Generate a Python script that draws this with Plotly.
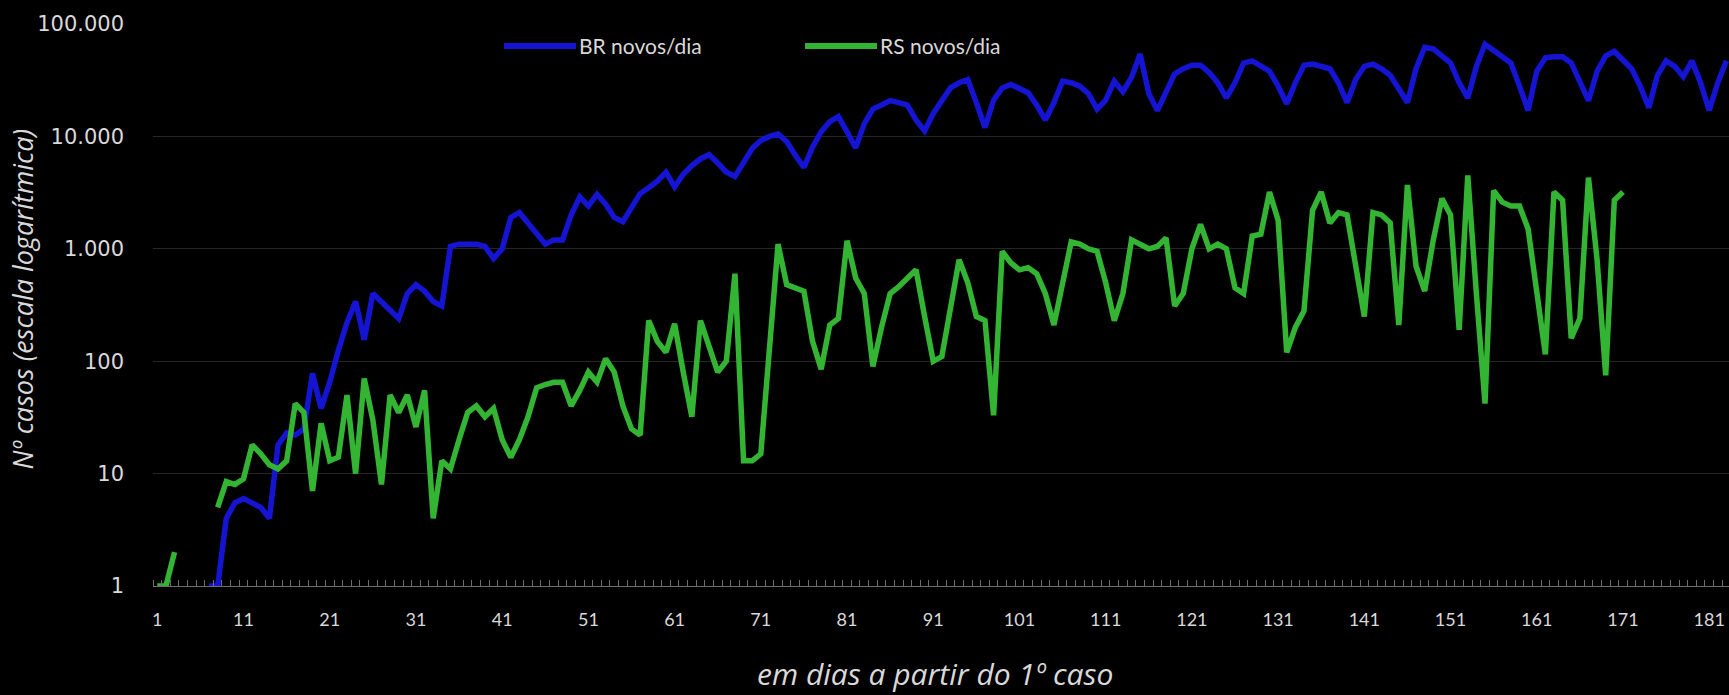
import plotly.graph_objects as go

# daily new cases (None = no value plotted)
br_cases = [
    None, None, None, None, None, None, 1, 1, 4, 5.5,            # 1-10
    6, 5.5, 5, 4, 18, 23, 22, 25, 78, 38,                        # 11-20
    65, 125, 220, 340, 155, 400, 340, 280, 240, 400,             # 21-30
    480, 420, 340, 310, 1050, 1100, 1100, 1100, 1050, 820,       # 31-40
    1000, 1900, 2100, 1700, 1400, 1100, 1200, 1200, 2000, 2900,  # 41-50
    2400, 3050, 2500, 1900, 1740, 2300, 3100, 3500, 4000, 4800,  # 51-60
    3550, 4600, 5500, 6300, 6900, 5800, 4800, 4400, 6000, 7800,  # 61-70
    9200, 10000, 10500, 9000, 6800, 5300, 8000, 11000, 13500, 15000,   # 71-80
    11000, 7900, 13000, 17500, 19000, 20800, 20000, 19000, 14000, 11200,  # 81-90
    16000, 21000, 27000, 30000, 32000, 20000, 12000, 21000, 27000, 29000,  # 91-100
    27000, 24500, 19000, 14000, 20000, 31000, 30000, 28000, 24000, 17500,  # 101-110
    21000, 31000, 25000, 33500, 54000, 24000, 17000, 25000, 36000, 40000,  # 111-120
    43000, 43000, 37000, 30000, 22000, 30000, 45000, 47000, 42000, 38000,  # 121-130
    28000, 19500, 30000, 43000, 44000, 42000, 40000, 30000, 20000, 32000,  # 131-140
    42000, 44000, 40000, 35000, 26000, 20000, 40000, 62000, 60000, 52000,  # 141-150
    45000, 30000, 22000, 42000, 66000, 58000, 51000, 45000, 28000, 17000,  # 151-160
    38000, 50000, 51000, 51000, 45000, 30000, 20800, 38000, 52000, 57000,  # 161-170
    48000, 40000, 28000, 18000, 35000, 47000, 42000, 34000, 47000, 30000,  # 171-180
    17000, 30000, 47000,                                                   # 181-183
]

rs_cases = [
    1, 1, 2, None, None, None, None, 5, 8.5, 8,                  # 1-10
    9, 18, 15, 12, 11, 13, 42, 35, 7, 28,                        # 11-20
    13, 14, 50, 10, 70, 30, 8, 50, 35, 50,                       # 21-30
    26, 55, 4, 13, 11, 20, 35, 40, 32, 38,                       # 31-40
    20, 14, 20, 32, 58, 62, 65, 65, 40, 55,                      # 41-50
    80, 65, 105, 80, 40, 25, 22, 230, 150, 120,                  # 51-60
    215, 80, 32, 230, 140, 80, 100, 600, 13, 13,                 # 61-70
    15, 130, 1100, 480, 450, 420, 150, 85, 210, 240,             # 71-80
    1180, 550, 400, 90, 200, 400, 460, 550, 650, 250,            # 81-90
    100, 110, 300, 800, 500, 250, 230, 33, 950, 750,             # 91-100
    650, 680, 600, 400, 210, 500, 1150, 1100, 1000, 950,         # 101-110
    500, 230, 400, 1200, 1100, 1000, 1050, 1250, 310, 400,       # 111-120
    1000, 1650, 1000, 1100, 1000, 450, 400, 1300, 1350, 3200,    # 121-130
    1800, 120, 200, 280, 2200, 3200, 1700, 2100, 2000, 700,      # 131-140
    250, 2100, 2000, 1700, 210, 3700, 700, 420, 1200, 2800,      # 141-150
    2000, 190, 4500, 400, 42, 3300, 2600, 2400, 2400, 1500,      # 151-160
    400, 115, 3200, 2700, 160, 240, 4300, 800, 75, 2700,         # 161-170
    3200,                                                        # 171
]

br_days = list(range(1, len(br_cases) + 1))
rs_days = list(range(1, len(rs_cases) + 1))

x_ticks = list(range(1, 182, 10))
y_ticks = [1, 10, 100, 1000, 10000, 100000]
y_labels = ["1", "10", "100", "1.000", "10.000", "100.000"]

series = [
    ("BR novos/dia", br_days, br_cases, "#1414d2"),
    ("RS novos/dia", rs_days, rs_cases, "#33b533"),
]

label_col = "#d9d9d9"

fig = go.Figure()
for name, xs, ys, col in series:
    fig.add_trace(go.Scatter(x=xs, y=ys, mode="lines", name=name,
                             line=dict(color=col, width=5.5)))

# Excel-style legend with long swatches, drawn in paper coords
legend_y = 0.961
swatches = [(0.2227, 0.2684), (0.4137, 0.4594)]
shapes, notes = [], []
for (x0, x1), (name, _, _, col) in zip(swatches, series):
    shapes.append(dict(type="line", xref="paper", yref="paper", x0=x0, x1=x1,
                       y0=legend_y, y1=legend_y, line=dict(color=col, width=6)))
    notes.append(dict(text=name, x=x1 + 0.0008, y=legend_y, xref="paper", yref="paper",
                      xanchor="left", yanchor="middle", showarrow=False,
                      font=dict(family="Lato", size=21, color=label_col)))

notes += [
    dict(text="Nº casos (escala logarítmica)", textangle=-90, x=-0.083, y=0.51,
         xref="paper", yref="paper", xanchor="center", yanchor="middle", showarrow=False,
         font=dict(family="Open Sans", size=27, color=label_col, style="italic")),
    dict(text="em dias a partir do 1º caso", x=0.496, y=-0.155,
         xref="paper", yref="paper", xanchor="center", yanchor="middle", showarrow=False,
         font=dict(family="Open Sans", size=30, color=label_col, style="italic")),
]

fig.update_layout(
    width=1729, height=695,
    margin=dict(l=153, r=0, t=24, b=109),
    paper_bgcolor="black", plot_bgcolor="black",
    font=dict(family="Lato", color=label_col),
    showlegend=False,
    shapes=shapes,
    annotations=notes,
)

fig.update_xaxes(
    range=[0.5, 183.3], tickmode="array", tickvals=x_ticks,
    ticktext=[str(v) for v in x_ticks], ticks="", showgrid=False, zeroline=False,
    showline=True, linecolor="#6e6e6e", linewidth=1,
    tickfont=dict(family="Lato", size=18, color=label_col), ticklabelstandoff=17,
    minor=dict(tickmode="linear", tick0=0.5, dtick=1, ticks="inside",
               ticklen=6, tickcolor="#6e6e6e", showgrid=False),
)
fig.update_yaxes(
    type="log", range=[0, 5], tickmode="array", tickvals=y_ticks, ticktext=y_labels,
    gridcolor="#262626", gridwidth=1, zeroline=False, showline=False,
    tickfont=dict(family="DejaVu Sans", size=21, color=label_col), ticklabelstandoff=28,
)

fig.write_html("out.html", config={"displayModeBar": False},
               post_script="document.body.style.margin='0px';")
